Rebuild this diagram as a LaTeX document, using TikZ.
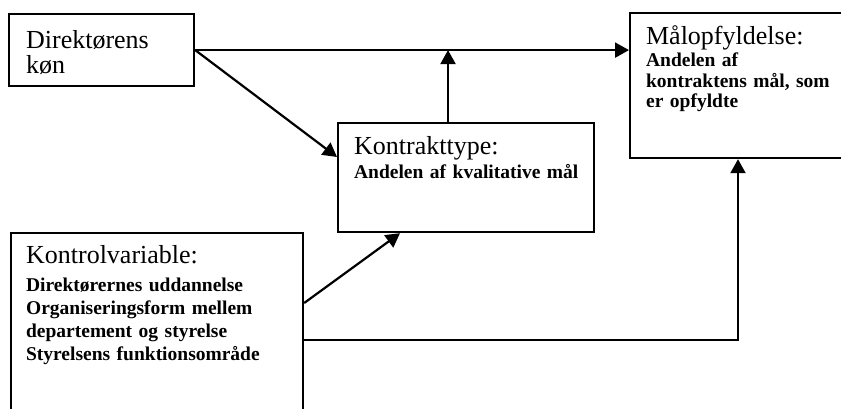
\documentclass[tikz,border=0pt]{standalone}
\usepackage{fontspec}
\setmainfont{Liberation Serif}
\usetikzlibrary{arrows.meta,calc}

\newcommand{\overskrift}[1]{{\mdseries\fontsize{26}{26}\selectfont #1}}

\begin{document}
\begin{tikzpicture}[x=1pt,y=-1pt,
    boks/.style={draw,line width=2.2pt,anchor=north west,align=left,inner ysep=0pt,
      font=\fontsize{19.5}{22}\selectfont\bfseries},
    pil/.style={-{Triangle[length=14pt,width=15pt]},line width=2.2pt}]
  \clip (0,0) rectangle (841,409);

  \node[boks,font=\fontsize{26}{25}\selectfont,inner xsep=17pt,text width=151pt,
    text height=34pt,text depth=38pt] (Kon) at (8,13) {Direktørens\\køn};
  \node[boks,inner xsep=16pt,text width=224pt,text height=31pt,text depth=78pt]
    (Type) at (337,122) {\overskrift{Kontrakttype:}\\[2pt]\mbox{Andelen af kvalitative mål}};
  \node[boks,font=\fontsize{19.5}{20.5}\selectfont\bfseries,inner xsep=16pt,
    text width=230pt,text height=31pt,text depth=114pt]
    (Maal) at (629,12) {\overskrift{Målopfyldelse:}\\[2pt]Andelen af\\kontraktens mål, som\\er opfyldte};
  \node[boks,font=\fontsize{19.5}{23}\selectfont\bfseries,inner xsep=15pt,
    text width=262pt,text height=30pt,text depth=200pt]
    (Kontrol) at (10,232) {\overskrift{Kontrolvariable:}\\[5pt]Direktørernes uddannelse\\
      Organiseringsform mellem\\departement og styrelse\\Styrelsens funktionsområde};

  \coordinate (Op) at ($(Type.north west)!0.43!(Type.north east)$);

  \draw[pil] (Kon.east) -- (Kon.east -| Maal.west);
  \draw[pil] (Kon.east) -- ([yshift=-35pt]Type.north west);
  \draw[pil] (Op) -- (Op |- Kon.east);
  \draw[pil] ([yshift=-71pt]Kontrol.north east) -- ([xshift=63pt]Type.south west);
  \draw[pil] ([yshift=-108pt]Kontrol.north east) -| ([xshift=109pt]Maal.south west);
\end{tikzpicture}
\end{document}
